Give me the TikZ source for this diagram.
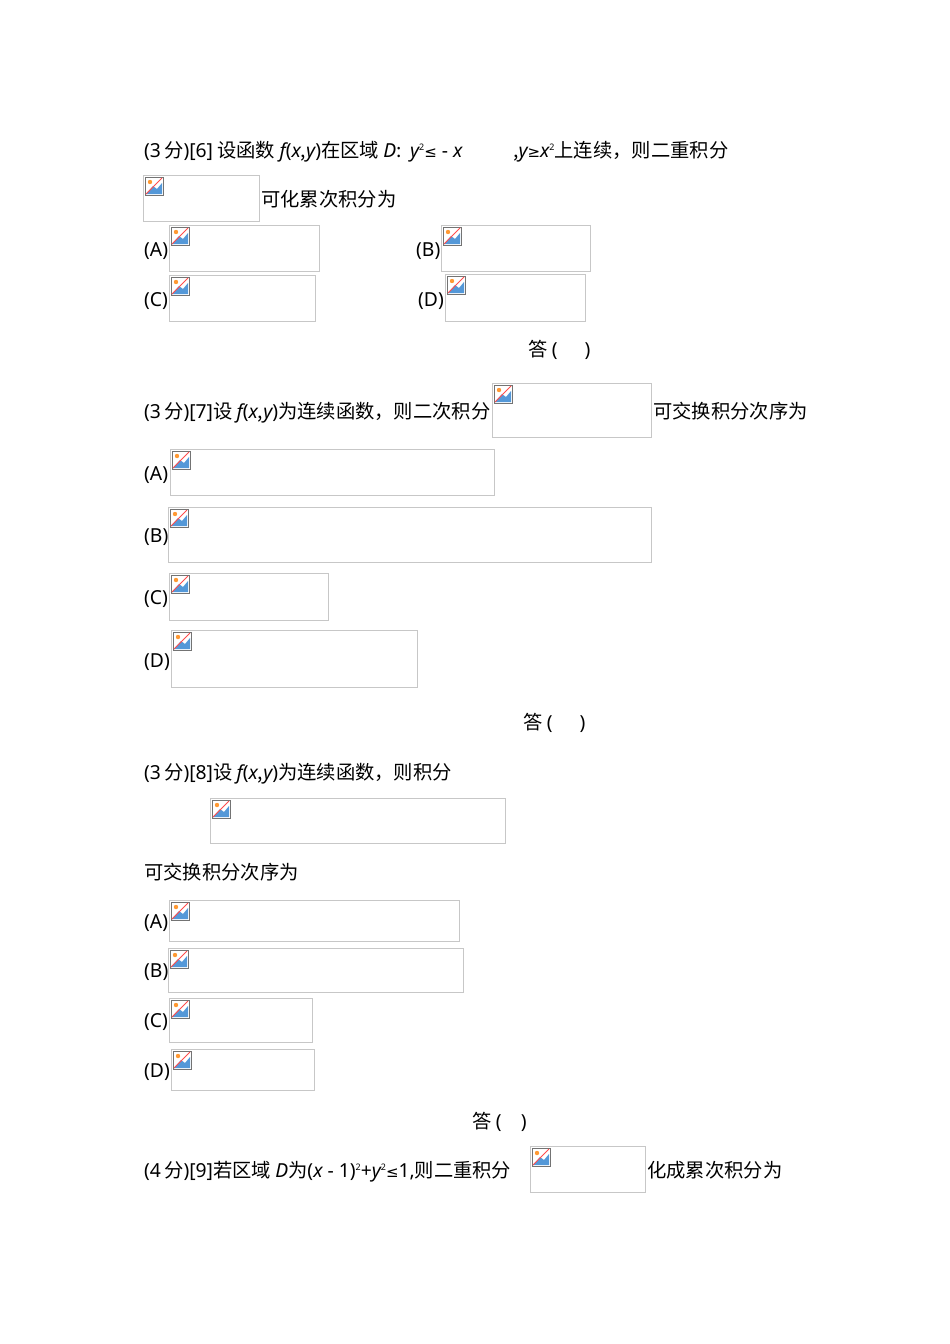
\documentclass[tikz,border=0pt]{standalone}
\usepackage{fontspec}
\setmainfont{Noto Sans CJK SC}
\newfontfamily\latfont{Noto Sans}
\newfontfamily\symfont{DejaVu Sans}
\newcommand{\iv}[1]{{\latfont\itshape #1}}
\newcommand{\lt}[1]{{\latfont #1}}
\newcommand{\sy}[1]{{\symfont\fontsize{15}{18}\selectfont #1}}
\newcommand{\sq}{{\latfont\fontsize{9}{9}\selectfont\raisebox{0.75em}{2}}}
\tikzset{
 txt/.style={anchor=base west,inner sep=0pt,font=\fontsize{19.3}{22}\selectfont},
 imgbox/.style={draw=black!22,line width=0.8pt}
}
\newcommand{\imgph}[5]{% name x1 y1 x2 y2
 \draw[imgbox] (#2,#3) rectangle (#4,#5);
 \coordinate (#1) at (#2,#3);
 \begin{scope}[shift={(#2+2,#3+2)}]
  \fill[white] (0,0) rectangle (18,18);
  \draw[black!55,line width=0.6pt] (0,0) rectangle (18,18);
  \fill[cyan!60!blue!70] (1,17) -- (8,9) -- (12,12) -- (17,6) -- (17,17) -- cycle;
  \fill[orange!80] (5,5) circle (2.2);
  \draw[red!70,line width=1pt] (1,17) -- (17,1);
 \end{scope}}
\begin{document}
\begin{tikzpicture}[x=1pt,y=-1pt]
\useasboundingbox (0,0) rectangle (950,1344);
% Q6
\node[txt] (q6a) at (144,157) {\lt{(3\,}分\lt{)[6]} 设函数 \iv{f}\lt{(}\iv{x},\iv{y}\lt{)}在区域 \iv{D}:\ \ \iv{y}\sq\sy{≤}\lt{ - }\iv{x}};
\node[txt] (q6b) at (513,157) {,\iv{y}\sy{≥}\iv{x}\sq 上连续，则二重积分};
\imgph{p0}{143}{175}{259}{221}
\node[txt] (q6c) at (261,206) {可化累次积分为};
\node[txt] (a6) at (144,256) {\lt{(A)}}; \imgph{p1}{169}{225}{319}{271}
\node[txt] (b6) at (416,256) {\lt{(B)}}; \imgph{p2}{441}{225}{590}{271}
\node[txt] (c6) at (144,306) {\lt{(C)}}; \imgph{p3}{169}{275}{315}{321}
\node[txt] (d6) at (418,306) {\lt{(D)}}; \imgph{p4}{445}{274}{585}{321}
\node[txt] (ans6) at (528,356) {答 \lt{(\hspace{1.4em})}};
% Q7
\node[txt] (q7) at (144,418) {\lt{(3\,}分\lt{)[7]}设 \iv{f}\lt{(}\iv{x},\iv{y}\lt{)}为连续函数，则二次积分};
\imgph{p5}{492}{383}{651}{437}
\node[txt] (q7b) at (653,418) {可交换积分次序为};
\node[txt] (a7) at (144,480) {\lt{(A)}}; \imgph{p6}{170}{449}{494}{495}
\node[txt] (b7) at (144,542) {\lt{(B)}}; \imgph{p7}{168}{507}{651}{562}
\node[txt] (c7) at (144,604) {\lt{(C)}}; \imgph{p8}{169}{573}{328}{620}
\node[txt] (d7) at (144,667) {\lt{(D)}}; \imgph{p9}{171}{630}{417}{687}
\node[txt] (ans7) at (523,729) {答 \lt{(\hspace{1.4em})}};
% Q8
\node[txt] (q8) at (144,779) {\lt{(3\,}分\lt{)[8]}设 \iv{f}\lt{(}\iv{x},\iv{y}\lt{)}为连续函数，则积分};
\imgph{p10}{210}{798}{505}{843}
\node[txt] (q8b) at (144,879) {可交换积分次序为};
\node[txt] (a8) at (144,928) {\lt{(A)}}; \imgph{p11}{169}{900}{459}{941}
\node[txt] (b8) at (144,977) {\lt{(B)}}; \imgph{p12}{168}{948}{463}{992}
\node[txt] (c8) at (144,1027) {\lt{(C)}}; \imgph{p13}{169}{998}{312}{1042}
\node[txt] (d8) at (144,1077) {\lt{(D)}}; \imgph{p14}{171}{1049}{314}{1090}
\node[txt] (ans8) at (472,1128) {答 \lt{(\hspace{1em})}};
% Q9
\node[txt] (q9) at (144,1177) {\lt{(4\,}分\lt{)[9]}若区域 \iv{D}为\lt{(}\iv{x}\lt{ - 1)}\sq\lt{+}\iv{y}\sq\sy{≤}\lt{1,}则二重积分};
\imgph{p15}{530}{1146}{645}{1192}
\node[txt] (q9b) at (647,1177) {化成累次积分为};
\end{tikzpicture}
\end{document}
